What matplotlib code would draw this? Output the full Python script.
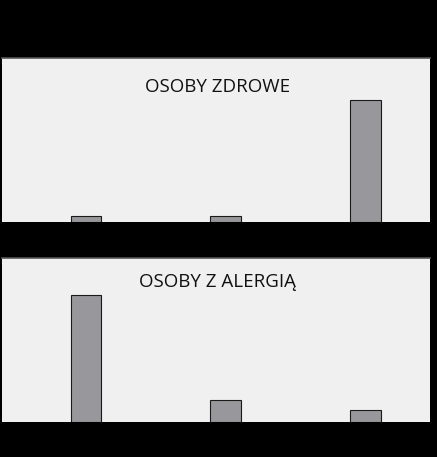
import matplotlib
matplotlib.use("Agg")
import matplotlib.pyplot as plt

categories = ["A", "B", "C"]
healthy = [3.5, 3.5, 74.5]
allergic = [77.5, 13.5, 7.5]
titles = ["OSOBY ZDROWE", "OSOBY Z ALERGIĄ"]

fig = plt.figure(figsize=(4.37, 4.57), dpi=100, facecolor="black")
W, H = 437, 457
panels = [(58, 222), (258, 422)]
title_y = [0.825, 0.855]
series = [healthy, allergic]

for (top, bot), vals, title, ty in zip(panels, series, titles, title_y):
    ax = fig.add_axes([2 / W, 1 - bot / H, 428 / W, (bot - top) / H])
    ax.set_facecolor("#f0f0f0")
    x = list(range(len(categories)))
    ax.bar(x, vals, width=0.22, color="#98979b", edgecolor="#1a1a1a", linewidth=0.8)
    ax.set_xlim(-0.6, 2.46)
    ax.set_ylim(0, 100)
    ax.set_xticks([])
    ax.set_yticks([])
    for s in ["left", "right", "bottom"]:
        ax.spines[s].set_visible(False)
    ax.spines["top"].set_color("#555555")
    ax.spines["top"].set_linewidth(1.2)
    ax.text(0.503, ty, title, transform=ax.transAxes, ha="center", va="center",
            fontsize=13.5, family="Open Sans", color="#111111")

fig.savefig("out.png", dpi=100, facecolor="black")
